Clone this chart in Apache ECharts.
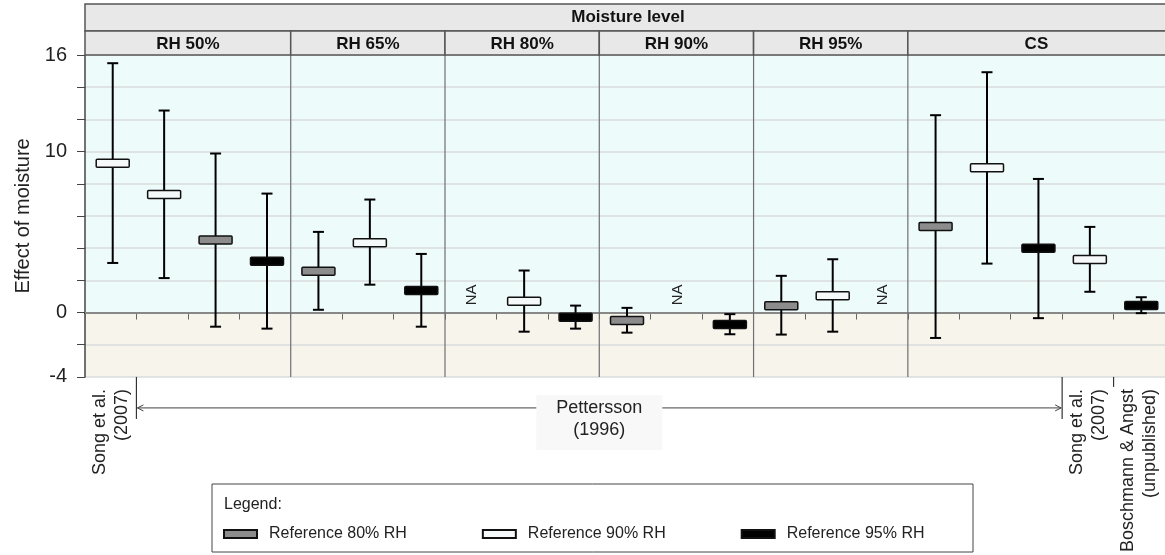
<!DOCTYPE html>
<html>
<head>
<meta charset="utf-8">
<script src="https://cdn.jsdelivr.net/npm/echarts@6/dist/echarts.min.js"></script>
<style>
  html, body { margin: 0; padding: 0; background: #fff; }
  #main { width: 1165px; height: 555px; }
</style>
</head>
<body>
<div id="main"></div>
<script>
// panels on top strip and how many slots each one takes
const panels = ["RH 50%", "RH 65%", "RH 80%", "RH 90%", "RH 95%", "CS"];
const panelSlots = [4, 3, 3, 3, 3, 5];

// one slot per study/reference combination
const slotIds = [
  "50-song", "50-p90", "50-p80", "50-p95",
  "65-p80", "65-p90", "65-p95",
  "80-p80", "80-p90", "80-p95",
  "90-p80", "90-p90", "90-p95",
  "95-p80", "95-p90", "95-p95",
  "cs-p80", "cs-p90", "cs-p95", "cs-song", "cs-bosch"
];
const sourceLabels = [
  "Song et al.\n(2007)", "", "", "",
  "", "", "", "", "", "", "", "", "", "", "", "", "", "", "",
  "Song et al.\n(2007)", "Boschmann & Angst\n(unpublished)"
];
// reference level of each slot (80/90/95 % RH)
const refType = [90, 90, 80, 95, 80, 90, 95, 80, 90, 95, 80, 90, 95, 80, 90, 95, 80, 90, 95, 90, 95];

// effect of moisture: mean and range, null = NA
const means = [9.27, 7.34, 4.50, 3.19, 2.57, 4.34, 1.37, null, 0.70, -0.30, -0.49, null, -0.75, 0.42, 1.04, null, 5.35, 8.99, 3.99, 3.29, 0.43];
const lows  = [3.08, 2.14, -0.88, -1.00, 0.17, 1.73, -0.88, null, -1.19, -1.00, -1.25, null, -1.35, -1.37, -1.19, null, -1.58, 3.04, -0.35, 1.29, -0.04];
const highs = [15.49, 12.55, 9.88, 7.39, 5.01, 7.02, 3.64, null, 2.61, 0.43, 0.29, null, -0.10, 2.28, 3.31, null, 12.26, 14.93, 8.30, 5.32, 0.95];

const yTickLabels = [16, 10, 0, -4];

const refNames = { 80: "Reference 80% RH", 90: "Reference 90% RH", 95: "Reference 95% RH" };
const refColors = { 80: "#8c8c8c", 90: "#f6f9f9", 95: "#000000" };

const FONT = "Liberation Sans, Arial, sans-serif";

function seriesData(ref) {
  const out = [];
  for (let i = 0; i < slotIds.length; i++) {
    if (refType[i] === ref && means[i] !== null) {
      out.push([i, lows[i], means[i], highs[i]]);
    }
  }
  return out;
}

function renderBar(params, api) {
  const mid = api.coord([api.value(0), api.value(2)]);
  const lo = api.coord([api.value(0), api.value(1)]);
  const hi = api.coord([api.value(0), api.value(3)]);
  const cx = mid[0] + 2;
  const capW = 11, boxW = 33, boxH = 8;
  const line = { stroke: "#000", lineWidth: 2 };
  return {
    type: "group",
    children: [
      { type: "line", shape: { x1: cx, y1: hi[1], x2: cx, y2: lo[1] }, style: line },
      { type: "line", shape: { x1: cx - capW / 2, y1: hi[1], x2: cx + capW / 2, y2: hi[1] }, style: line },
      { type: "line", shape: { x1: cx - capW / 2, y1: lo[1], x2: cx + capW / 2, y2: lo[1] }, style: line },
      {
        type: "rect",
        shape: { x: cx - boxW / 2, y: mid[1] - boxH / 2, width: boxW, height: boxH, r: 1 },
        style: { fill: api.visual("color"), stroke: "#111", lineWidth: 1.5 }
      }
    ]
  };
}

const chart = echarts.init(document.getElementById("main"));

const series = [80, 90, 95].map(function (ref, k) {
  const s = {
    name: refNames[ref],
    type: "custom",
    renderItem: renderBar,
    itemStyle: { color: refColors[ref], borderColor: "#111", borderWidth: 1.5 },
    encode: { x: 0, y: [1, 2, 3] },
    data: seriesData(ref),
    z: 3
  };
  if (k === 0) {
    s.markLine = {
      silent: true,
      symbol: "none",
      z: 1,
      label: { show: false },
      lineStyle: { color: "#888", width: 2, type: "solid" },
      data: [{ yAxis: 0 }]
    };
  }
  return s;
});

const bgColors = ["#f7f4ec", "#f7f4ec"];
for (let i = 0; i < 8; i++) bgColors.push("#eefbfb");

chart.setOption({
  animation: false,
  textStyle: { fontFamily: FONT },
  grid: { left: 85, right: 0, top: 55, bottom: 175, containLabel: false },
  legend: {
    left: 223,
    top: 526,
    padding: 0,
    icon: "rect",
    itemWidth: 33,
    itemHeight: 8,
    itemGap: 75,
    textStyle: { fontSize: 16, color: "#222", fontFamily: FONT, padding: [0, 0, 0, 7] },
    data: [refNames[80], refNames[90], refNames[95]]
  },
  xAxis: {
    type: "category",
    data: slotIds,
    boundaryGap: true,
    axisLine: { lineStyle: { color: "#222", width: 2 } },
    axisTick: { show: true, interval: 0, length: 7, lineStyle: { color: "#666", width: 1 } },
    axisLabel: {
      interval: 0,
      rotate: 90,
      margin: 12,
      fontSize: 18,
      lineHeight: 22,
      color: "#222",
      fontFamily: FONT,
      formatter: function (v, idx) { return sourceLabels[idx]; }
    },
    splitLine: { show: false }
  },
  yAxis: {
    type: "value",
    min: -4,
    max: 16,
    interval: 2,
    name: "Effect of moisture",
    nameLocation: "middle",
    nameGap: 52,
    nameTextStyle: { fontSize: 20, color: "#222", fontFamily: FONT },
    axisLine: { show: true, lineStyle: { color: "#444", width: 1.5 } },
    axisTick: { show: true, length: 8, lineStyle: { color: "#444" } },
    axisLabel: {
      fontSize: 20,
      color: "#222",
      margin: 18,
      fontFamily: FONT,
      formatter: function (v) { return yTickLabels.indexOf(v) >= 0 ? String(v) : ""; }
    },
    splitLine: { show: true, lineStyle: { color: "#d8dcdc", width: 1.5 } },
    splitArea: { show: true, areaStyle: { color: bgColors } }
  },
  series: series
});

// decorations placed from the axes' own scale
function drawDecor() {
  const px0 = chart.convertToPixel({ xAxisIndex: 0 }, 0);
  const px1 = chart.convertToPixel({ xAxisIndex: 0 }, 1);
  const slotW = px1 - px0;
  const bound = function (i) { return px0 - slotW / 2 + i * slotW; };
  const yTop = chart.convertToPixel({ yAxisIndex: 0 }, 16);
  const yBot = chart.convertToPixel({ yAxisIndex: 0 }, -4);
  const n = slotIds.length;
  const g = [];

  // top strip
  g.push({
    type: "rect", z: 5,
    shape: { x: bound(0), y: 4, width: bound(n) - bound(0) + 2, height: 27 },
    style: { fill: "#e8e8e8", stroke: "#555", lineWidth: 1.5 }
  });
  g.push({
    type: "text", z: 6,
    style: {
      text: "Moisture level", x: (bound(0) + bound(n)) / 2 + 3, y: 17.5,
      align: "center", verticalAlign: "middle",
      font: "bold 17px " + FONT, fill: "#111"
    }
  });

  // panel strips + dividers
  let s = 0;
  panels.forEach(function (p, k) {
    const e = s + panelSlots[k];
    const x0 = bound(s), x1 = k === panels.length - 1 ? bound(e) + 2 : bound(e);
    g.push({
      type: "rect", z: 5,
      shape: { x: x0, y: 31, width: x1 - x0, height: 24 },
      style: { fill: "#e8e8e8", stroke: "#555", lineWidth: 1.5 }
    });
    g.push({
      type: "text", z: 6,
      style: {
        text: p, x: (x0 + bound(e)) / 2, y: 44,
        align: "center", verticalAlign: "middle",
        font: "bold 17px " + FONT, fill: "#111"
      }
    });
    if (k > 0) {
      g.push({
        type: "line", z: 1, silent: true,
        shape: { x1: x0, y1: yTop, x2: x0, y2: yBot },
        style: { stroke: "#707070", lineWidth: 1.2 }
      });
    }
    s = e;
  });

  // NA markers
  for (let i = 0; i < n; i++) {
    if (means[i] === null) {
      const p = chart.convertToPixel({ xAxisIndex: 0, yAxisIndex: 0 }, [i, 1.1]);
      g.push({
        type: "text", z: 6,
        x: p[0] + 1, y: p[1], rotation: Math.PI / 2,
        style: {
          text: "NA", x: 0, y: 0, align: "center", verticalAlign: "middle",
          font: "15px " + FONT, fill: "#222"
        }
      });
    }
  }

  // long ticks separating the sources
  [[1, 42], [19, 42], [20, 10]].forEach(function (t) {
    g.push({
      type: "line", z: 5,
      shape: { x1: bound(t[0]), y1: yBot, x2: bound(t[0]), y2: yBot + t[1] },
      style: { stroke: "#333", lineWidth: 1.2 }
    });
  });

  // Pettersson span arrow
  const ay = yBot + 31;
  const ax0 = bound(1) + 1, ax1 = bound(19) - 1;
  const arrowStyle = { stroke: "#444", lineWidth: 1, fill: null };
  g.push({ type: "line", z: 5, shape: { x1: ax0, y1: ay, x2: ax1, y2: ay }, style: arrowStyle });
  g.push({ type: "polyline", z: 5, shape: { points: [[ax0 + 6, ay - 3], [ax0, ay], [ax0 + 6, ay + 3]] }, style: arrowStyle });
  g.push({ type: "polyline", z: 5, shape: { points: [[ax1 - 6, ay - 3], [ax1, ay], [ax1 - 6, ay + 3]] }, style: arrowStyle });
  const pc = (bound(1) + bound(19)) / 2;
  g.push({
    type: "rect", z: 6,
    shape: { x: pc - 63, y: ay - 13, width: 126, height: 55 },
    style: { fill: "#f8f8f8", stroke: null }
  });
  g.push({
    type: "text", z: 7,
    style: {
      text: "Pettersson\n(1996)", x: pc, y: ay - 11,
      align: "center", verticalAlign: "top", lineHeight: 22,
      font: "18px " + FONT, fill: "#222"
    }
  });

  // legend frame
  g.push({
    type: "rect", z: -1,
    shape: { x: 212, y: 484, width: 761, height: 68 },
    style: { fill: "#fff", stroke: "#444", lineWidth: 1 }
  });
  g.push({
    type: "text", z: 6,
    style: { text: "Legend:", x: 224, y: 505, verticalAlign: "middle", font: "16px " + FONT, fill: "#222" }
  });

  chart.setOption({ graphic: { elements: g } });
}

drawDecor();
</script>
</body>
</html>
